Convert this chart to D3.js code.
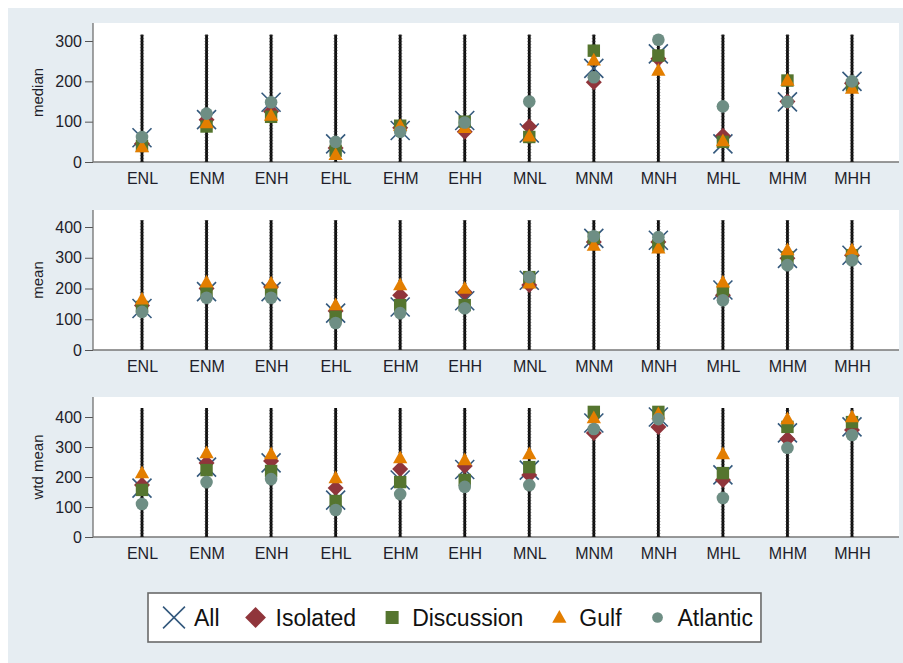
<!DOCTYPE html>
<html>
<head>
<meta charset="utf-8">
<script src="https://cdn.jsdelivr.net/npm/d3@7"></script>
<style>
  html, body { margin: 0; padding: 0; background: #ffffff; }
  svg { display: block; }
  text { font-family: "Liberation Sans", Arial, sans-serif; }
</style>
</head>
<body>
<script>
// Groups along the x axis
const categories = ["ENL", "ENM", "ENH", "EHL", "EHM", "EHH", "MNL", "MNM", "MNH", "MHL", "MHM", "MHH"];

// Series names, in drawing order
const seriesNames = ["All", "Isolated", "Discussion", "Gulf", "Atlantic"];

// Median
const medianAll        = [60, 105, 148, 45, 78, 103, 72, 232, 268, 45, 149, 200];
const medianIsolated   = [45, 105, 125, 35, 85, 75, 88, 198, 256, 65, 150, 195];
const medianDiscussion = [40, 88, 112, 28, 90, 100, 62, 276, 264, 50, 202, 190];
const medianGulf       = [37, 97, 115, 18, 90, 85, 64, 252, 227, 52, 202, 182];
const medianAtlantic   = [62, 120, 148, 50, 75, 98, 150, 210, 303, 138, 149, 200];

// Mean
const meanAll        = [135, 190, 190, 120, 140, 160, 227, 363, 357, 195, 298, 308];
const meanIsolated   = [145, 200, 205, 127, 178, 188, 211, 351, 351, 178, 298, 308];
const meanDiscussion = [140, 190, 190, 108, 146, 146, 237, 365, 340, 195, 302, 308];
const meanGulf       = [165, 220, 217, 146, 211, 200, 217, 340, 331, 220, 325, 325];
const meanAtlantic   = [124, 170, 170, 88, 120, 136, 237, 370, 367, 162, 276, 292];

// Weighted mean
const wtdAll        = [163, 233, 247, 123, 190, 225, 223, 380, 400, 207, 347, 367];
const wtdIsolated   = [173, 247, 253, 163, 227, 237, 207, 347, 367, 190, 327, 357];
const wtdDiscussion = [157, 223, 220, 120, 183, 190, 233, 417, 417, 213, 367, 383];
const wtdGulf       = [213, 280, 277, 197, 263, 257, 277, 397, 410, 277, 393, 400];
const wtdAtlantic   = [110, 183, 193, 90, 143, 167, 173, 360, 393, 130, 297, 340];

// Panel titles, y tick labels and the height of the spikes
const panelTitles = ["median", "mean", "wtd mean"];
const medianTicks = [0, 100, 200, 300];
const meanTicks   = [0, 100, 200, 300, 400];
const wtdTicks    = [0, 100, 200, 300, 400];
const spikeTops   = [316, 422, 430];

const panels = [
  { title: panelTitles[0], ticks: medianTicks, spike: spikeTops[0],
    series: [medianAll, medianIsolated, medianDiscussion, medianGulf, medianAtlantic],
    top: 23, base: 162, tickTopVal: 300, tickTopY: 41 },
  { title: panelTitles[1], ticks: meanTicks, spike: spikeTops[1],
    series: [meanAll, meanIsolated, meanDiscussion, meanGulf, meanAtlantic],
    top: 210, base: 350, tickTopVal: 400, tickTopY: 227 },
  { title: panelTitles[2], ticks: wtdTicks, spike: spikeTops[2],
    series: [wtdAll, wtdIsolated, wtdDiscussion, wtdGulf, wtdAtlantic],
    top: 397, base: 537, tickTopVal: 400, tickTopY: 417 }
];

const colors = {
  All: "#34597d",
  Isolated: "#90353b",
  Discussion: "#55752f",
  Gulf: "#e37e00",
  Atlantic: "#6e8e84"
};

const W = 903, H = 663;
const plotLeft = 93, plotRight = 899;

const svg = d3.select("body").append("svg")
  .attr("width", W).attr("height", H);

// graph region
svg.append("rect")
  .attr("x", 8).attr("y", 8).attr("width", W - 8).attr("height", H - 8)
  .attr("fill", "#e6edf2");

const x = d3.scalePoint().domain(categories).range([142, 852]).padding(0);

// marker symbol generators
function drawMarker(g, name, cx, cy, scale) {
  const s = scale || 1;
  const c = colors[name];
  if (name === "All") {
    const h = 9.5 * s;
    g.append("path")
      .attr("d", `M${cx - h},${cy - h}L${cx + h},${cy + h}M${cx - h},${cy + h}L${cx + h},${cy - h}`)
      .attr("stroke", c).attr("stroke-width", 1.6).attr("fill", "none");
  } else if (name === "Isolated") {
    const h = 8 * s;
    g.append("path")
      .attr("d", `M${cx},${cy - h}L${cx + h},${cy}L${cx},${cy + h}L${cx - h},${cy}Z`)
      .attr("fill", c);
  } else if (name === "Discussion") {
    const h = 6.2 * s;
    g.append("rect")
      .attr("x", cx - h).attr("y", cy - h).attr("width", 2 * h).attr("height", 2 * h)
      .attr("fill", c);
  } else if (name === "Gulf") {
    const h = 7.5 * s;
    g.append("path")
      .attr("d", `M${cx},${cy - h}L${cx + h * 0.95},${cy + h * 0.7}L${cx - h * 0.95},${cy + h * 0.7}Z`)
      .attr("fill", c);
  } else {
    g.append("circle")
      .attr("cx", cx).attr("cy", cy).attr("r", 6.3 * s)
      .attr("fill", c);
  }
}

panels.forEach(p => {
  const y = d3.scaleLinear()
    .domain([0, p.tickTopVal])
    .range([p.base, p.tickTopY]);

  const g = svg.append("g");

  // plot region
  g.append("rect")
    .attr("x", plotLeft).attr("y", p.top)
    .attr("width", plotRight - plotLeft).attr("height", p.base - p.top)
    .attr("fill", "#ffffff");

  // y axis
  const yAxis = d3.axisLeft(y).tickValues(p.ticks).tickSize(8).tickPadding(3).tickFormat(d3.format("d"));
  const ya = g.append("g").attr("transform", `translate(${plotLeft},0)`).call(yAxis);
  ya.select(".domain").remove();
  ya.selectAll(".tick line").attr("stroke", "#555").attr("stroke-width", 1);
  ya.selectAll(".tick text").attr("font-size", 16).attr("fill", "#1e1e2a")
    .attr("font-family", "'Liberation Sans', Arial, sans-serif");
  g.append("line")
    .attr("x1", plotLeft).attr("x2", plotLeft)
    .attr("y1", p.top).attr("y2", p.base)
    .attr("stroke", "#666").attr("stroke-width", 1.2);

  // x axis
  const xAxis = d3.axisBottom(x).tickSize(0).tickPadding(11);
  const xa = g.append("g").attr("transform", `translate(0,${p.base})`).call(xAxis);
  xa.select(".domain").remove();
  xa.selectAll(".tick text").attr("font-size", 16).attr("fill", "#1e1e2a")
    .attr("font-family", "'Liberation Sans', Arial, sans-serif");
  g.append("line")
    .attr("x1", plotLeft).attr("x2", plotRight)
    .attr("y1", p.base).attr("y2", p.base)
    .attr("stroke", "#777").attr("stroke-width", 1.3);

  // y title
  g.append("text")
    .attr("transform", `translate(43,${(p.top + p.base) / 2}) rotate(-90)`)
    .attr("text-anchor", "middle")
    .attr("font-size", 15).attr("fill", "#1e1e2a")
    .text(p.title);

  // spikes
  categories.forEach(c => {
    g.append("line")
      .attr("x1", x(c)).attr("x2", x(c))
      .attr("y1", y(0)).attr("y2", y(p.spike))
      .attr("stroke", "#0d0d0d").attr("stroke-width", 2.8);
    g.append("line")
      .attr("x1", x(c)).attr("x2", x(c))
      .attr("y1", y(0)).attr("y2", y(p.spike))
      .attr("stroke", "#333").attr("stroke-width", 4.2)
      .attr("stroke-dasharray", "1,2").attr("opacity", 0.45);
  });

  // markers
  seriesNames.forEach((name, si) => {
    const vals = p.series[si];
    const mg = g.append("g").attr("class", "series-" + name);
    categories.forEach((c, i) => drawMarker(mg, name, x(c), y(vals[i]), 1));
  });
});

// legend
const lg = svg.append("g");
const box = lg.append("rect")
  .attr("x", 148).attr("y", 593).attr("height", 49)
  .attr("fill", "#ffffff").attr("stroke", "#6a6a6a").attr("stroke-width", 1.6);
const legendSize = { All: 1.15, Isolated: 1.3, Discussion: 1.05, Gulf: 1.0, Atlantic: 0.85 };
let cx = 174;
const ly = 617.5;
seriesNames.forEach((name, i) => {
  drawMarker(lg, name, cx, ly, legendSize[name]);
  const t = lg.append("text")
    .attr("x", cx + 20).attr("y", ly + 8)
    .attr("font-size", 23).attr("fill", "#111")
    .text(name);
  const w = t.node().getComputedTextLength();
  if (i < seriesNames.length - 1) cx = cx + 20 + w + 36;
  else box.attr("width", cx + 20 + w + 8 - 148);
});
</script>
</body>
</html>
